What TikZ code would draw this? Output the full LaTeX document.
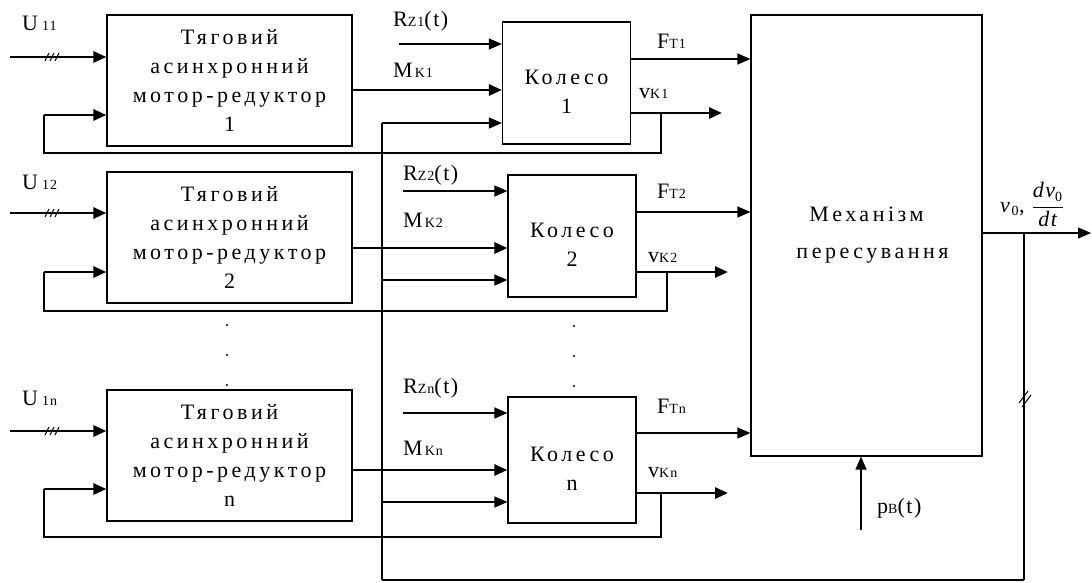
\documentclass[tikz,border=0pt]{standalone}
\usepackage{fontspec}
\setmainfont[LetterSpace=16]{Liberation Serif}
\newfontfamily\lblfont[LetterSpace=7]{Liberation Serif}
\usetikzlibrary{arrows.meta, positioning, calc}
\newcommand{\lowidx}[1]{{\fontsize{14}{14}\selectfont #1}}

\begin{document}
\begin{tikzpicture}[
    x=1pt, y=-1pt,
    font=\fontsize{22}{29}\selectfont,
    blk/.style={rectangle, draw=black, line width=1.2pt, align=center, inner sep=0pt},
    motor/.style={blk, minimum width=245pt, minimum height=131pt},
    wheel/.style={blk, minimum width=128pt, minimum height=122pt},
    sig/.style={line width=1.2pt},
    pwr/.style={line width=2.8pt},
    arr/.style={sig, -{Triangle[length=13pt, width=11pt]}},
    parr/.style={pwr, -{Triangle[length=13pt, width=11pt]}},
    lbl/.style={anchor=base west, inner sep=0pt, font=\lblfont\fontsize{22}{26}\selectfont},
    tri/.pic={\foreach \d in {-5,0,5} \draw[line width=1pt] (\d-2,4) -- (\d+2,-4);},
  ]
  \useasboundingbox (0,0) rectangle (1092,582);

  % blocks
  \node[motor] (mot1) at (229.5,80.5)  {Тяговий\\асинхронний\\мотор-редуктор\\1};
  \node[motor] (mot2) at (229.5,237.5) {Тяговий\\асинхронний\\мотор-редуктор\\2};
  \node[motor] (motn) at (229.5,455.5) {Тяговий\\асинхронний\\мотор-редуктор\\n};
  \node[wheel] (wh1) at (566.5,83) {\rule{0pt}{31pt}Колесо\\1};
  \node[wheel] (wh2) at (572,236)  {\rule{0pt}{31pt}Колесо\\2};
  \node[wheel, minimum height=126pt] (whn) at (572,460) {\rule{0pt}{31pt}Колесо\\n};
  \node[blk, minimum width=231pt, minimum height=441pt, font=\fontsize{22}{37}\selectfont]
    (mech) at (866.5,235.5) {Механізм\\\hspace*{12pt}пересування};

  % supply inputs
  \coordinate (u1) at (10,57);
  \coordinate (u2) at (10,213);
  \coordinate (un) at (10,431);
  \draw[parr] (u1) -- (u1 -| mot1.west);
  \draw[parr] (u2) -- (u2 -| mot2.west);
  \draw[parr] (un) -- (un -| motn.west);
  \pic at (52,57) {tri};
  \pic at (52,213) {tri};
  \pic at (52,431) {tri};
  \node[lbl] (lu1) at (22,30)  {U\kern4pt\lowidx{11}};
  \node[lbl] (lu2) at (22,189) {U\kern4pt\lowidx{12}};
  \node[lbl] (lun) at (22,405) {U\kern4pt\lowidx{1n}};

  % torque to wheels
  \draw[parr] (mot1.east |- 0,90)  -- (wh1.west |- 0,90);
  \draw[parr] (mot2.east |- 0,248) -- (wh2.west |- 0,248);
  \draw[parr] (motn.east |- 0,470) -- (whn.west |- 0,470);
  \node[lbl] (lm1) at (393,77)  {M\kern2pt\lowidx{K1}};
  \node[lbl] (lm2) at (403,227) {M\kern2pt\lowidx{K2}};
  \node[lbl] (lmn) at (403,455) {M\kern2pt\lowidx{Kn}};

  % resistance
  \coordinate (r1) at (399,44);
  \coordinate (r2) at (403,191);
  \coordinate (rn) at (403,413);
  \draw[arr] (r1) -- (r1 -| wh1.west);
  \draw[arr] (r2) -- (r2 -| wh2.west);
  \draw[arr] (rn) -- (rn -| whn.west);
  \node[lbl] (lr1) at (393,26)  {R\lowidx{Z1}(t)};
  \node[lbl] (lr2) at (403,180) {R\lowidx{Z2}(t)};
  \node[lbl] (lrn) at (403,393) {R\lowidx{Zn}(t)};

  % traction forces
  \draw[arr] (wh1.east |- 0,59)  -- (mech.west |- 0,59);
  \draw[arr] (wh2.east |- 0,212) -- (mech.west |- 0,212);
  \draw[arr] (whn.east |- 0,433) -- (mech.west |- 0,433);
  \node[lbl] (lf1) at (657,48)  {F\lowidx{T1}};
  \node[lbl] (lf2) at (657,198) {F\lowidx{T2}};
  \node[lbl] (lfn) at (657,413) {F\lowidx{Tn}};

  % wheel speeds and feedback
  \coordinate (v1) at (722,113);
  \coordinate (v2) at (728,272);
  \coordinate (vn) at (728,493);
  \draw[parr] (wh1.east |- v1) -- (v1);
  \draw[parr] (wh2.east |- v2) -- (v2);
  \draw[parr] (whn.east |- vn) -- (vn);
  \node[lbl] (lv1) at (639,98)  {v\lowidx{K1}};
  \node[lbl] (lv2) at (648,262) {v\lowidx{K2}};
  \node[lbl] (lvn) at (648,477) {v\lowidx{Kn}};
  \coordinate (fb1) at (661,113);
  \coordinate (fb2) at (667,272);
  \coordinate (fbn) at (661,493);
  \draw[sig] (fb1) |- (44,153) -- (44,115);
  \draw[sig] (fb2) |- (44,311) -- (44,272);
  \draw[sig] (fbn) |- (44,537) -- (44,489);
  \draw[parr] (44,115) -- (mot1.west |- 0,115);
  \draw[parr] (44,272) -- (mot2.west |- 0,272);
  \draw[parr] (44,489) -- (motn.west |- 0,489);

  % crane speed
  \coordinate (out) at (1091,233);
  \coordinate (bo) at (1024,233);
  \draw[arr] (mech.east |- out) -- (out);
  \node[lbl] (lout) at (1000,212) {\textit{v}$_{\textrm{\lowidx{0}}}$, $\displaystyle\frac{\textit{dv}_{\textrm{\lowidx{0}}}}{\textit{dt}}$};

  % speed bus back to wheels
  \coordinate (b1) at (382,123);
  \coordinate (b2) at (382,280);
  \coordinate (bn) at (382,502);
  \coordinate (bc) at (382,580);
  \draw[pwr] (b1) -- (bc);
  \draw[sig] (bc) -- (bc -| bo);
  \draw[pwr] (bc -| bo) -- (bo);
  \draw[line width=1pt] (1019,403) -- (1028,391) (1022,407) -- (1031,395);
  \draw[arr] (b1) -- (b1 -| wh1.west);
  \draw[arr] (b2) -- (b2 -| wh2.west);
  \draw[arr] (bn) -- (bn -| whn.west);

  % wind load
  \coordinate (pb) at (861,530);
  \draw[arr] (pb) -- (pb |- mech.south);
  \node[lbl] (lpb) at (877,513) {p\lowidx{B}(t)};

  % dots
  \foreach \y in {325,355,385} {
    \fill (227,\y) circle (1.2pt);
    \fill (574,\y+1) circle (1.2pt);
  }
\end{tikzpicture}
\end{document}
